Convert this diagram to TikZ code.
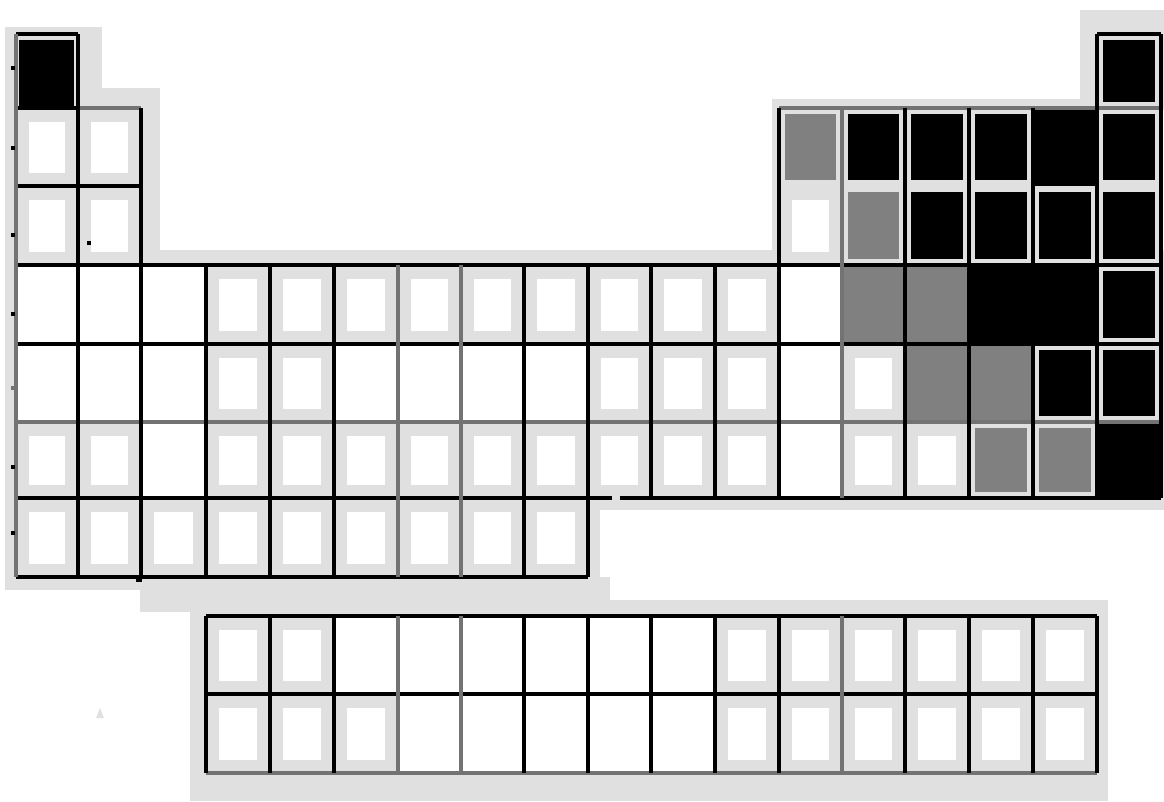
\documentclass[tikz,border=0pt]{standalone}
\usepackage{tikz}
\definecolor{bgg}{HTML}{E0E0E0}
\definecolor{midg}{HTML}{808080}
\definecolor{lineg}{HTML}{737373}
\def\XL{{16,78,141,206,270,334,398,461,524,588,651,715,779,842,905,969,1033,1097,1161}}
\def\YT{{34,108,186,265,344,422,498,616,694}}
\def\YB{{108,186,265,344,422,498,577,694,773}}
\def\pctypew{\fill[bgg] (\xa,\ya) rectangle (\xb,\yb); \fill[white] (\xa+13,\ya+14) rectangle (\xb-13,\yb-13);}
\def\pctypeW{\fill[white] (\xa,\ya) rectangle (\xb,\yb);}
\def\pctypeb{\fill[black] (\xa,\ya) rectangle (\xb,\yb);}
\def\pctypeB{\fill[bgg] (\xa,\ya) rectangle (\xb,\yb); \fill[black] (\xa+6,\ya+6) rectangle (\xb-6,\yb-6);}
\def\pctypeH{\fill[bgg] (\xa,\ya) rectangle (\xb,\yb); \fill[black] (\xa+3,\ya+6) rectangle (\xb-4,\yb);}
\def\pctypeg{\fill[midg] (\xa,\ya) rectangle (\xb,\yb);}
\def\pctypeG{\fill[bgg] (\xa,\ya) rectangle (\xb,\yb); \fill[midg] (\xa+6,\ya+6) rectangle (\xb-6,\yb-6);}
\newcommand\pcell[3]{%
  \pgfmathsetmacro\xa{\XL[#1-1]}%
  \pgfmathsetmacro\xb{\XL[#1]}%
  \pgfmathsetmacro\ya{\YT[#2-1]}%
  \pgfmathsetmacro\yb{\YB[#2-1]}%
  \csname pctype#3\endcsname}
\tikzset{bl/.style={line width=3.6pt,black}, gl/.style={line width=3.6pt,lineg}}
\begin{document}
\begin{tikzpicture}[x=1pt,y=-1pt]
\useasboundingbox (0,0) rectangle (1164,801);
% background blob
\fill[bgg] (5,27) rectangle (102,110);
\fill[bgg] (5,88) rectangle (160,590);
\fill[bgg] (141,250) rectangle (790,270);
\fill[bgg] (772,99) rectangle (1100,270);
\fill[bgg] (1080,10) rectangle (1164,110);
\fill[bgg] (141,250) rectangle (1164,510);
\fill[bgg] (5,490) rectangle (600,590);
\fill[bgg] (140,577) rectangle (610,612);
\fill[bgg] (190,600) rectangle (1108,801);
% cells
\pcell{1}{1}{H} \pcell{18}{1}{B}
\pcell{1}{2}{w} \pcell{2}{2}{w} \pcell{13}{2}{G}
\foreach \c in {14,15,16,18} {\pcell{\c}{2}{B}} \pcell{17}{2}{b}
\pcell{1}{3}{w} \pcell{2}{3}{w} \pcell{13}{3}{w} \pcell{14}{3}{G}
\foreach \c in {15,...,18} {\pcell{\c}{3}{B}}
\foreach \c in {1,2,3,13} {\pcell{\c}{4}{W}}
\foreach \c in {4,...,12} {\pcell{\c}{4}{w}}
\pcell{14}{4}{g} \pcell{15}{4}{g} \pcell{16}{4}{b} \pcell{17}{4}{b} \pcell{18}{4}{B}
\foreach \c in {1,2,3,6,7,8,9,13} {\pcell{\c}{5}{W}}
\foreach \c in {4,5,10,11,12,14} {\pcell{\c}{5}{w}}
\pcell{15}{5}{g} \pcell{16}{5}{g} \pcell{17}{5}{B} \pcell{18}{5}{B}
\foreach \c in {1,2,4,5,6,7,8,9,10,11,12,14,15} {\pcell{\c}{6}{w}}
\pcell{3}{6}{W} \pcell{13}{6}{W}
\pcell{16}{6}{G} \pcell{17}{6}{G} \pcell{18}{6}{b}
\foreach \c in {1,...,9} {\pcell{\c}{7}{w}}
\foreach \c in {4,5,12,13,14,15,16,17} {\pcell{\c}{8}{w}}
\foreach \c in {6,...,11} {\pcell{\c}{8}{W}}
\foreach \c in {4,5,6,12,13,14,15,16,17} {\pcell{\c}{9}{w}}
\foreach \c in {7,...,11} {\pcell{\c}{9}{W}}
% horizontal lines
\draw[bl] (16,34) -- (78,34);
\draw[bl] (1097,34) -- (1161,34);
\draw[bl] (16,108) -- (78,108);
\draw[gl] (78,108) -- (141,108);
\draw[gl] (779,108) -- (1161,108);
\draw[bl] (16,186) -- (141,186);
\draw[bl] (16,265) -- (1161,265);
\draw[bl] (16,344) -- (1161,344);
\draw[gl] (16,422) -- (1161,422);
\draw[bl] (16,498) -- (612,498);
\draw[bl] (620,498) -- (1161,498);
\draw[bl] (16,577) -- (588,577);
\draw[bl] (206,616) -- (1097,616);
\draw[bl] (206,694) -- (1097,694);
\draw[gl] (206,773) -- (1097,773);
% vertical lines
\draw[gl] (16,34) -- (16,577);
\draw[bl] (78,34) -- (78,577);
\draw[bl] (141,108) -- (141,577);
\foreach \x in {206,270,334,524,588} {\draw[bl] (\x,265) -- (\x,577);}
\foreach \x in {398,461} {\draw[gl] (\x,265) -- (\x,577);}
\foreach \x in {651,715} {\draw[bl] (\x,265) -- (\x,498);}
\draw[bl] (779,108) -- (779,498);
\draw[gl] (842,108) -- (842,498);
\foreach \x in {905,969,1033} {\draw[bl] (\x,108) -- (\x,498);}
\draw[bl] (1097,34) -- (1097,498);
\draw[bl] (1161,34) -- (1161,498);
\foreach \x in {206,270,334,524,588,651,715,779,905,969,1033,1097} {\draw[bl] (\x,616) -- (\x,773);}
\foreach \x in {398,461,842} {\draw[gl] (\x,616) -- (\x,773);}
% small marks
\foreach \y in {68,148,235,314,467,533} {\fill (11,\y-2) rectangle (15,\y+2);}
\fill[lineg] (11,386) rectangle (15,390);
\fill (87,241) rectangle (91,245);
\fill (136,575) rectangle (142,582);
\fill[bgg] (96,718) -- (100,708) -- (104,718) -- cycle;
\end{tikzpicture}
\end{document}
